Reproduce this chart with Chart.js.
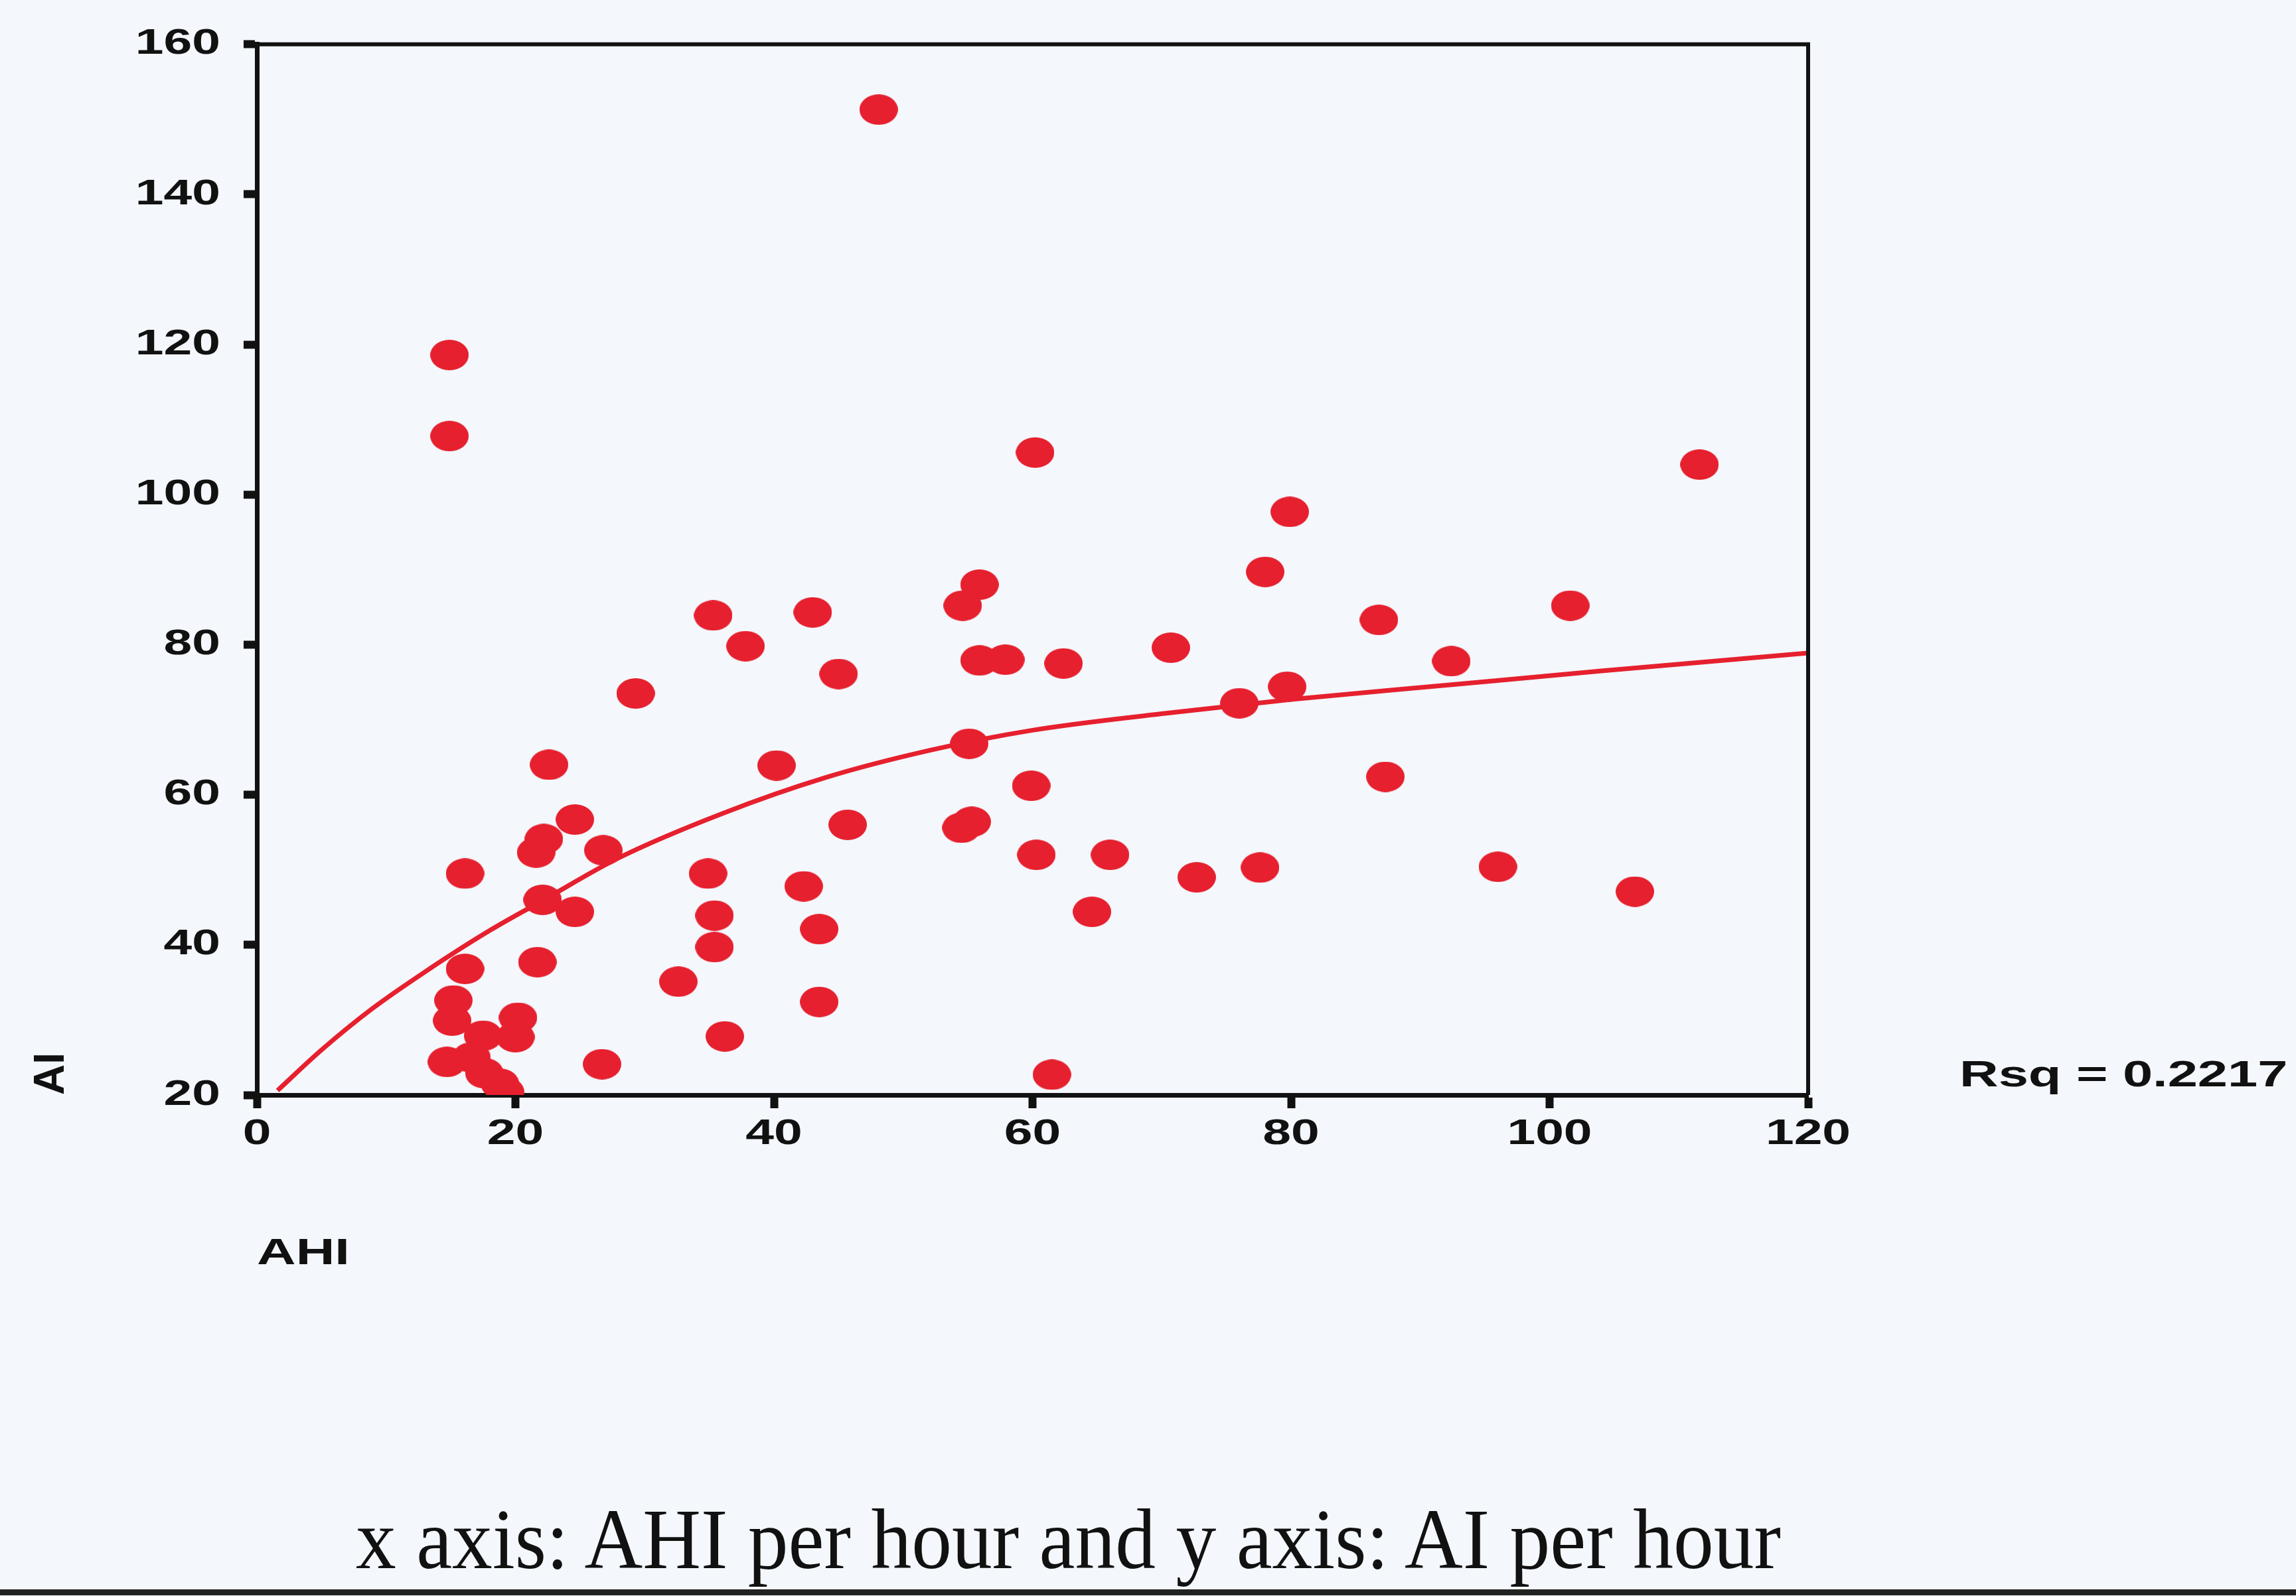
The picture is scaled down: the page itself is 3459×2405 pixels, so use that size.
<!DOCTYPE html>
<html>
<head>
<meta charset="utf-8">
<script src="https://cdn.jsdelivr.net/npm/chart.js@4"></script>
<style>
  body { margin: 0; background: #f4f7fc; width: 3459px; height: 2405px; overflow: hidden; position: relative; }
  #chart { position: absolute; left: 0; top: 0; }
  #caption {
    position: absolute; left: 536px; top: 2254px;
    font: 130px/1 "Liberation Serif", serif; color: #111; white-space: nowrap;
    transform: scaleX(0.935); transform-origin: left top;
  }
  #rule { position: absolute; left: 0; top: 2395px; width: 3459px; height: 9px; background: #222; }
</style>
</head>
<body>
<canvas id="chart" width="3459" height="2405"></canvas>
<div id="caption">x axis: AHI per hour and y axis: AI per hour</div>
<div id="rule"></div>
<script>
// AHI (x) and AI (y) per patient
const ahi = [48.1, 14.9, 14.9, 60.2, 111.6, 79.9, 78.0, 55.9, 54.6, 101.6,
  35.3, 43.0, 86.8, 37.8, 70.7, 55.9, 57.9, 62.4, 92.4, 45.0,
  79.7, 29.3, 76.0, 55.1, 40.2, 22.6, 59.9, 87.3, 45.7, 54.5,
  55.3, 24.6, 22.2, 21.6, 26.8, 60.3, 66.0, 16.1, 34.9, 72.7,
  77.6, 96.0, 42.3, 106.6, 22.1, 24.6, 35.4, 64.6, 43.5, 35.4,
  16.1, 21.7, 32.6, 15.2, 43.5, 15.1, 20.2, 36.2, 17.5, 20.0,
  16.6, 26.7, 14.7, 17.6, 18.8, 19.2, 61.5];
const ai = [151.3, 118.6, 107.8, 105.6, 104.0, 97.7, 89.7, 88.0, 85.2, 85.2,
  83.9, 84.3, 83.3, 79.8, 79.6, 77.9, 78.0, 77.5, 77.8, 76.1,
  74.4, 73.5, 72.2, 66.8, 63.9, 64.0, 61.2, 62.4, 56.0, 55.6,
  56.4, 56.7, 54.1, 52.3, 52.6, 52.0, 52.0, 49.5, 49.5, 49.0,
  50.3, 50.4, 47.8, 47.1, 46.0, 44.4, 43.9, 44.4, 42.1, 39.7,
  36.8, 37.7, 35.1, 32.6, 32.4, 29.9, 30.3, 27.8, 27.9, 27.7,
  25.0, 24.1, 24.4, 22.9, 21.5, 20.4, 22.7];

// fitted curve, points
const fitAhi = [1.6, 5, 9, 13, 18, 22, 28, 36, 44, 52, 60, 70, 80, 92, 104, 120];
const fitAi = [20.6, 26.0, 31.6, 36.4, 41.9, 45.8, 51.6, 57.5, 62.3, 65.9, 68.6, 70.8, 72.7, 74.6, 76.5, 78.9];

const xTicks = [0, 20, 40, 60, 80, 100, 120];
const yTicks = [20, 40, 60, 80, 100, 120, 140, 160];
const rsqLabel = "Rsq = 0.2217";

const red = "#e6202e";
const ink = "#111";
const STRETCH = 1.45; // the SPSS sans labels are much wider than Arial

const canvas = document.getElementById("chart");
const ctx = canvas.getContext("2d");

// widen horizontal text around its anchor point (rotated text left alone)
const plainFill = ctx.fillText;
ctx.fillText = function (text, x, y, maxWidth) {
  const m = this.getTransform();
  if (Math.abs(m.b) > 0.5) {
    plainFill.call(this, text, x, y);
    return;
  }
  this.save();
  this.translate(x, y);
  this.scale(STRETCH, 1);
  plainFill.call(this, text, 0, 0);
  this.restore();
};

// SPSS dots are a bit wider than tall
const dot = document.createElement("canvas");
dot.width = 58;
dot.height = 46;
const dctx = dot.getContext("2d");
dctx.fillStyle = red;
dctx.beginPath();
dctx.ellipse(29, 23, 29, 23, 0, 0, Math.PI * 2);
dctx.fill();

const frame = {
  id: "frame",
  afterDraw(chart) {
    const c = chart.ctx;
    const a = chart.chartArea;
    c.save();
    c.strokeStyle = ink;
    c.lineWidth = 6;
    c.beginPath();
    c.moveTo(a.left, a.top);
    c.lineTo(a.right, a.top);
    c.lineTo(a.right, a.bottom);
    c.stroke();
    c.font = 'bold 56px "Liberation Sans"';
    c.fillStyle = ink;
    c.textAlign = "left";
    c.textBaseline = "alphabetic";
    c.fillText(rsqLabel, a.right + 228, chart.scales.y.getPixelForValue(yTicks[0]) - 13);
    c.restore();
  },
};

const tickFont = { family: "Liberation Sans", size: 53, weight: "bold" };
const titleFont = { family: "Liberation Sans", size: 56, weight: "bold" };
const axisGrid = {
  drawOnChartArea: false,
  drawTicks: true,
  tickLength: 20,
  tickWidth: 12,
  tickColor: ink,
};

new Chart(ctx, {
  type: "scatter",
  data: {
    datasets: [
      {
        data: ahi.map((v, i) => ({ x: v, y: ai[i] })),
        pointStyle: dot,
        pointRadius: 29,
      },
      {
        data: fitAhi.map((v, i) => ({ x: v, y: fitAi[i] })),
        showLine: true,
        borderColor: red,
        borderWidth: 7,
        pointRadius: 0,
        cubicInterpolationMode: "monotone",
      },
    ],
  },
  options: {
    responsive: false,
    animation: false,
    devicePixelRatio: 1,
    layout: { padding: { left: 0, top: 59, right: 735, bottom: 0 } },
    plugins: { legend: { display: false }, tooltip: { enabled: false } },
    scales: {
      x: {
        type: "linear",
        min: 0,
        max: 120,
        afterBuildTicks: (s) => { s.ticks = xTicks.map((v) => ({ value: v })); },
        afterFit: (s) => { s.height = 755; },
        ticks: { font: tickFont, color: ink, padding: 8, maxRotation: 0 },
        grid: axisGrid,
        border: { color: ink, width: 7 },
        title: {
          display: true, text: "AHI", align: "start", color: ink,
          font: titleFont, padding: { top: 0, bottom: 482 },
        },
      },
      y: {
        type: "linear",
        min: 20,
        max: 160,
        afterBuildTicks: (s) => { s.ticks = yTicks.map((v) => ({ value: v })); },
        afterFit: (s) => { s.width = 387; },
        ticks: { font: tickFont, color: ink, padding: 35 },
        grid: axisGrid,
        border: { color: ink, width: 7 },
        title: {
          display: true, text: "AI", align: "start", color: ink,
          font: { family: "Liberation Sans", size: 64, weight: "bold" },
          padding: { top: 40, bottom: 0 },
        },
      },
    },
  },
  plugins: [frame],
});
</script>
</body>
</html>
